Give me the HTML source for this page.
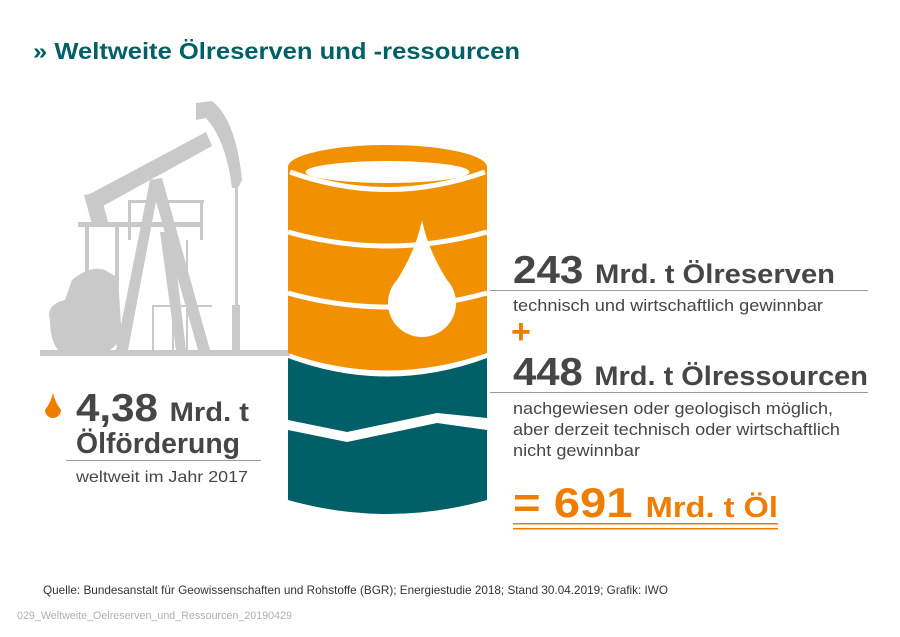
<!DOCTYPE html>
<html><head><meta charset="utf-8"><style>
body{margin:0;background:#fff;}
svg{display:block;font-family:"Liberation Sans",Arial,sans-serif;}
</style></head><body>
<svg width="900" height="637" viewBox="0 0 900 637">
<!-- title -->
<text x="33" y="59" font-size="23.5" font-weight="bold" fill="#005f67" textLength="487" lengthAdjust="spacingAndGlyphs">» Weltweite Ölreserven und -ressourcen</text>

<!-- pump jack -->
<g fill="#c9c9c9" stroke="none">
  <rect x="40" y="350" width="250" height="6"/>
  <path d="M196,103 L212,101 Q236,120 242,180 L238,188 L232,188 Q226,140 206,118 L196,120 Z"/>
  <path d="M86,196 L206,132 L212,146 L92,212 Z"/>
  <path d="M84,195 L100,192 L108,222 L92,224 Z"/>
  <rect x="235" y="188" width="3" height="150"/>
  <rect x="232" y="305" width="8" height="45"/>
  <path d="M150,180 L162,178 L210,350 L198,350 Z"/>
  <path d="M150,180 L160,180 L128,350 L116,350 Z"/>
  <path d="M160,232 L172,232 L186,350 L176,350 Z"/>
  <rect x="78" y="222" width="124" height="5"/>
  <rect x="128" y="200" width="76" height="3"/>
  <rect x="200" y="200" width="3" height="40"/>
  <rect x="128" y="200" width="3" height="40"/>
  <rect x="85" y="227" width="4" height="70"/>
  <rect x="115" y="227" width="4" height="60"/>
  <path d="M50,320 Q45,305 65,300 L72,280 Q90,265 105,270 L118,278 L122,340 L110,350 L58,350 Q50,340 50,320 Z"/>
  <rect x="172" y="240" width="2" height="110"/>
  <rect x="186" y="240" width="2" height="110"/>
  <rect x="152" y="305" width="60" height="2"/>
  <rect x="152" y="305" width="2" height="45"/>
</g>

<!-- barrel -->
<g>
  <path d="M288,358 Q387,395 487,358 L487,500 Q387,528 288,500 Z" fill="#005f67"/>
  <path d="M288,420 L347,432 L437,413 L487,418 L487,430 L437,423 L347,442 L288,430 Z" fill="#fff"/>
  <path d="M288,167 L487,167 L487,353 Q387,388 288,353 Z" fill="#f29100"/>
  <ellipse cx="387.5" cy="167" rx="99.5" ry="22" fill="#f29100"/>
  <ellipse cx="387.5" cy="172" rx="82" ry="11" fill="#fff"/>
  <path d="M290,172 Q387,207 485,172" stroke="#fff" stroke-width="5" fill="none"/>
  <path d="M288,232 Q387,260 487,232" stroke="#fff" stroke-width="5" fill="none"/>
  <path d="M288,293 Q387,321 487,293" stroke="#fff" stroke-width="5" fill="none"/>
  <path d="M422,220 Q416,250 397,280 A34,34 0 1 0 447,280 Q428,250 422,220 Z" fill="#fff"/>
</g>

<!-- right text -->
<text x="513" y="283" font-size="39" font-weight="bold" fill="#464646" textLength="322" lengthAdjust="spacingAndGlyphs">243 <tspan font-size="27">Mrd. t Ölreserven</tspan></text>
<rect x="490" y="290" width="378" height="1" fill="#9a9a9a"/>
<text x="513" y="311" font-size="16.5" fill="#464646" textLength="310" lengthAdjust="spacingAndGlyphs">technisch und wirtschaftlich gewinnbar</text>
<text x="511" y="343" font-size="34" font-weight="bold" fill="#ef7d00">+</text>
<text x="513" y="385" font-size="39" font-weight="bold" fill="#464646" textLength="355" lengthAdjust="spacingAndGlyphs">448 <tspan font-size="27">Mrd. t Ölressourcen</tspan></text>
<rect x="490" y="392" width="378" height="1" fill="#9a9a9a"/>
<text x="513" y="414" font-size="16.5" fill="#464646" textLength="320" lengthAdjust="spacingAndGlyphs">nachgewiesen oder geologisch möglich,</text>
<text x="513" y="435" font-size="16.5" fill="#464646" textLength="327" lengthAdjust="spacingAndGlyphs">aber derzeit technisch oder wirtschaftlich</text>
<text x="513" y="456" font-size="16.5" fill="#464646" textLength="127" lengthAdjust="spacingAndGlyphs">nicht gewinnbar</text>
<text x="513" y="517" font-size="42" font-weight="bold" fill="#ef7d00" textLength="265" lengthAdjust="spacingAndGlyphs">= 691 <tspan font-size="29">Mrd. t Öl</tspan></text>
<rect x="513" y="523" width="265" height="1.5" fill="#ef7d00"/>
<rect x="513" y="528" width="265" height="1.5" fill="#ef7d00"/>

<!-- left text -->
<path d="M53,393 Q51,402 45,410 A8,8 0 1 0 61,410 Q55,402 53,393 Z" fill="#ef7d00"/>
<text x="76" y="421" font-size="39" font-weight="bold" fill="#464646" textLength="173" lengthAdjust="spacingAndGlyphs">4,38 <tspan font-size="27">Mrd. t</tspan></text>
<text x="76" y="453" font-size="29" font-weight="bold" fill="#464646" textLength="164" lengthAdjust="spacingAndGlyphs">Ölförderung</text>
<rect x="66" y="460" width="195" height="1" fill="#9a9a9a"/>
<text x="76" y="482" font-size="16" fill="#464646" textLength="172" lengthAdjust="spacingAndGlyphs">weltweit im Jahr 2017</text>

<!-- footer -->
<text x="43" y="594" font-size="12" fill="#333" textLength="625" lengthAdjust="spacingAndGlyphs">Quelle: Bundesanstalt für Geowissenschaften und Rohstoffe (BGR); Energiestudie 2018; Stand 30.04.2019; Grafik: IWO</text>
<text x="17" y="619" font-size="11" fill="#b0b0b0" textLength="275" lengthAdjust="spacingAndGlyphs">029_Weltweite_Oelreserven_und_Ressourcen_20190429</text>
</svg>
</body></html>
